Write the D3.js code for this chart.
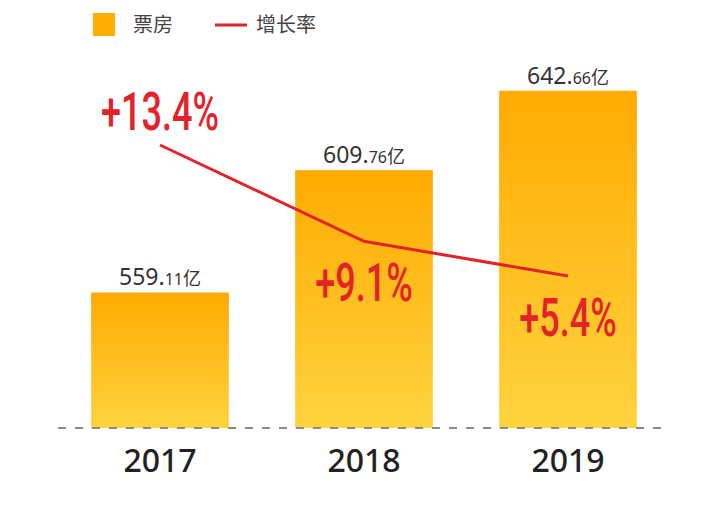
<!DOCTYPE html>
<html><head><meta charset="utf-8">
<script src="https://cdn.jsdelivr.net/npm/d3@7"></script>
<style>body{margin:0;background:#fff}svg{display:block}</style>
</head><body>
<script>
const years = ["2017", "2018", "2019"];
const boxOffice = [559.11, 609.76, 642.66];
const growth = [13.4, 9.1, 5.4];
const legendLabels = ["票房", "增长率"];

const W = 708, H = 517;
const svg = d3.select("body").append("svg").attr("width", W).attr("height", H);

const defs = svg.append("defs");
const grad = defs.append("linearGradient").attr("id", "barGrad").attr("x1", 0).attr("y1", 0).attr("x2", 0).attr("y2", 1);
grad.append("stop").attr("offset", "0%").attr("stop-color", "#FFAB00");
grad.append("stop").attr("offset", "100%").attr("stop-color", "#FFD33F");

const x = d3.scaleBand().domain(years).range([58, 670]).paddingInner(0.325).paddingOuter(0.1625);
const y = d3.scaleLinear().domain([503, 650]).range([428, 73]);
const yG = d3.scalePow().exponent(3).domain([5.4, 13.4]).range([276, 145]);

// bars
svg.selectAll("rect.bar").data(years).join("rect").attr("class", "bar")
  .attr("x", d => x(d)).attr("width", x.bandwidth())
  .attr("y", (d, i) => y(boxOffice[i]))
  .attr("height", (d, i) => y(503) - y(boxOffice[i]))
  .attr("fill", "url(#barGrad)");

// baseline dashed
svg.append("line").attr("x1", 58).attr("x2", 670).attr("y1", y(503)).attr("y2", y(503))
  .attr("stroke", "#8a8a8a").attr("stroke-width", 2).attr("stroke-dasharray", "8,9");

// value labels
const vl = svg.selectAll("text.val").data(years).join("text").attr("class", "val")
  .attr("x", d => x(d) + x.bandwidth() / 2)
  .attr("y", (d, i) => y(boxOffice[i]) - 7)
  .attr("text-anchor", "middle")
  .attr("fill", "#333")
  .style("font-family", "'Noto Sans', 'Noto Sans CJK SC', sans-serif");
vl.append("tspan").attr("font-size", 23).text((d, i) => boxOffice[i].toFixed(2).split(".")[0] + ".");
vl.append("tspan").attr("font-size", 16).text((d, i) => boxOffice[i].toFixed(2).split(".")[1]);
vl.append("tspan").attr("font-size", 18).style("font-family", "'Noto Sans CJK SC', sans-serif").text("亿");

// x labels
svg.selectAll("text.year").data(years).join("text").attr("class", "year")
  .attr("x", d => x(d) + x.bandwidth() / 2).attr("y", 472)
  .attr("text-anchor", "middle").attr("fill", "#222")
  .attr("font-size", 32).attr("font-weight", 500).style("font-family", "'Noto Sans', sans-serif")
  .text(d => d);

// growth line
const pts = years.map((d, i) => [x(d) + x.bandwidth() / 2, yG(growth[i])]);
svg.append("path").attr("d", d3.line()(pts)).attr("fill", "none")
  .attr("stroke", "#E2232A").attr("stroke-width", 3);

// growth labels (condensed)
svg.selectAll("text.g").data(years).join("text").attr("class", "g")
  .attr("transform", (d, i) => `translate(${pts[i][0]},${i === 0 ? pts[i][1] - 15 : pts[i][1] + 60}) scale(0.68,1)`)
  .attr("text-anchor", "middle").attr("fill", "#E2232A")
  .attr("font-size", 53).attr("font-weight", 500)
  .style("font-family", "Roboto, sans-serif")
  .text((d, i) => "+" + growth[i].toFixed(1) + "%");

// legend
const lg = svg.append("g");
lg.append("rect").attr("x", 93).attr("y", 13).attr("width", 22).attr("height", 23).attr("fill", "#FFAE00");
lg.append("text").attr("x", 133).attr("y", 32).attr("font-size", 20).attr("fill", "#444")
  .style("font-family", "'Noto Sans CJK SC', sans-serif").text(legendLabels[0]);
lg.append("line").attr("x1", 215).attr("x2", 247).attr("y1", 25).attr("y2", 25).attr("stroke", "#E2232A").attr("stroke-width", 3);
lg.append("text").attr("x", 256).attr("y", 32).attr("font-size", 20).attr("fill", "#444")
  .style("font-family", "'Noto Sans CJK SC', sans-serif").text(legendLabels[1]);
</script>
</body></html>
